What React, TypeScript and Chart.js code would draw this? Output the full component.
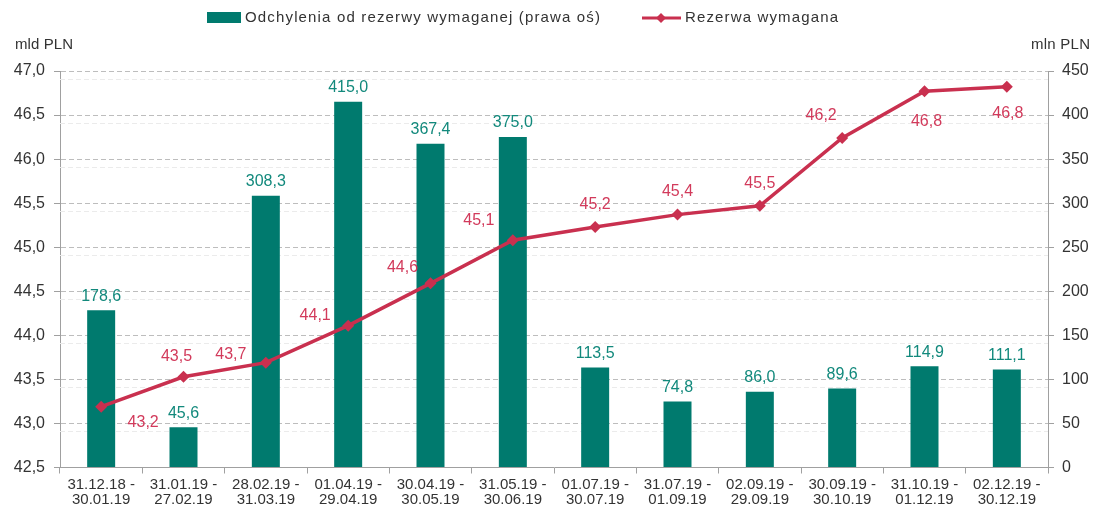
import React, { useEffect, useRef } from 'react';
import { Chart, registerables } from 'chart.js';

Chart.register(...registerables);

// ---------- data ----------
const categories: string[][] = [
  ['31.12.18 -', '30.01.19'],
  ['31.01.19 -', '27.02.19'],
  ['28.02.19 -', '31.03.19'],
  ['01.04.19 -', '29.04.19'],
  ['30.04.19 -', '30.05.19'],
  ['31.05.19 -', '30.06.19'],
  ['01.07.19 -', '30.07.19'],
  ['31.07.19 -', '01.09.19'],
  ['02.09.19 -', '29.09.19'],
  ['30.09.19 -', '30.10.19'],
  ['31.10.19 -', '01.12.19'],
  ['02.12.19 -', '30.12.19'],
];
const deviations: number[] = [178.6, 45.6, 308.3, 415.0, 367.4, 375.0, 113.5, 74.8, 86.0, 89.6, 114.9, 111.1];
const requiredReserve: number[] = [43.19, 43.53, 43.69, 44.11, 44.59, 45.08, 45.23, 45.37, 45.47, 46.24, 46.77, 46.82];
const barSeriesName = 'Odchylenia od rezerwy wymaganej (prawa oś)';
const lineSeriesName = 'Rezerwa wymagana';
const leftAxisTitle = 'mld PLN';
const rightAxisTitle = 'mln PLN';
const leftRange = { min: 42.5, max: 47.0, step: 0.5 };
const rightRange = { min: 0, max: 450, step: 50 };

// ---------- style ----------
const BAR_COLOR = '#007A6E';
const BAR_LABEL_COLOR = '#12897C';
const LINE_COLOR = '#C9304F';
const LINE_LABEL_COLOR = '#D23A5B';
const TEXT_COLOR = '#333333';
const GRID_COLOR = '#BDBDBD';
const AXIS_COLOR = '#A0A0A0';
const FONT = '"Liberation Sans", Arial, sans-serif';
// label offsets (px) relative to line points
const lineLabelOffsets: [number, number][] = [
  [42, 16], [-7, -20], [-35, -8], [-33, -10], [-28, -16], [-34, -20],
  [0, -22], [0, -23], [0, -22], [-21, -22], [2, 30], [1, 27],
];

const fmt1 = (v: number) => v.toFixed(1).replace('.', ',');

function fillSpaced(ctx: CanvasRenderingContext2D, text: string, x: number, y: number, target: number) {
  (ctx as any).letterSpacing = '0px';
  const w = ctx.measureText(text).width;
  const sp = text.length > 1 ? (target - w) / (text.length - 1) : 0;
  (ctx as any).letterSpacing = sp + 'px';
  ctx.fillText(text, x, y);
  (ctx as any).letterSpacing = '0px';
}

const decorPlugin = {
  id: 'decor',
  beforeDatasetsDraw(chart: any) {
    const { ctx, chartArea } = chart;
    const y = chart.scales.y;
    ctx.save();
    ctx.strokeStyle = '#EBEBEB';
    ctx.lineWidth = 1;
    ctx.setLineDash([5, 3]);
    y.ticks.forEach((t: any) => {
      const py = Math.round(y.getPixelForValue(t.value)) + 8.5;
      if (py < chartArea.bottom) {
        ctx.beginPath();
        ctx.moveTo(chartArea.left, py);
        ctx.lineTo(chartArea.right, py);
        ctx.stroke();
      }
    });
    ctx.restore();
  },
  afterDraw(chart: any) {
    const { ctx } = chart;
    ctx.save();
    // legend
    ctx.fillStyle = BAR_COLOR;
    ctx.fillRect(207, 12, 34, 11);
    ctx.font = `15px ${FONT}`;
    ctx.fillStyle = TEXT_COLOR;
    ctx.textBaseline = 'middle';
    ctx.textAlign = 'left';
    fillSpaced(ctx, barSeriesName, 245, 18, 355);
    ctx.strokeStyle = LINE_COLOR;
    ctx.lineWidth = 3;
    ctx.beginPath();
    ctx.moveTo(642, 18);
    ctx.lineTo(681, 18);
    ctx.stroke();
    ctx.fillStyle = LINE_COLOR;
    ctx.beginPath();
    ctx.moveTo(661, 13);
    ctx.lineTo(666, 18);
    ctx.lineTo(661, 23);
    ctx.lineTo(656, 18);
    ctx.closePath();
    ctx.fill();
    ctx.fillStyle = TEXT_COLOR;
    fillSpaced(ctx, lineSeriesName, 685, 18, 153);
    // axis titles
    ctx.font = `15px ${FONT}`;
    fillSpaced(ctx, leftAxisTitle, 15, 45, 58);
    fillSpaced(ctx, rightAxisTitle, 1031, 45, 59);

    // bar labels
    ctx.font = `16px ${FONT}`;
    ctx.textAlign = 'center';
    ctx.textBaseline = 'bottom';
    ctx.fillStyle = BAR_LABEL_COLOR;
    const barMeta = chart.getDatasetMeta(0);
    barMeta.data.forEach((el: any, i: number) => {
      ctx.fillText(fmt1(deviations[i]), el.x, el.y - 6);
    });
    // line labels
    ctx.textBaseline = 'middle';
    ctx.fillStyle = LINE_LABEL_COLOR;
    const lineMeta = chart.getDatasetMeta(1);
    lineMeta.data.forEach((el: any, i: number) => {
      const [dx, dy] = lineLabelOffsets[i];
      ctx.fillText(fmt1(requiredReserve[i]), el.x + dx, el.y + dy);
    });
    ctx.restore();
  },
};

export default function App() {
  const ref = useRef<HTMLCanvasElement | null>(null);
  useEffect(() => {
    document.body.style.margin = '0';
    if (!ref.current) return;
    const chart = new Chart(ref.current, {
      type: 'bar',
      data: {
        labels: categories,
        datasets: [
          {
            type: 'bar',
            label: barSeriesName,
            data: deviations,
            backgroundColor: BAR_COLOR,
            yAxisID: 'y1',
            categoryPercentage: 1,
            barPercentage: 0.34,
            order: 2,
          },
          {
            type: 'line',
            label: lineSeriesName,
            data: requiredReserve,
            borderColor: LINE_COLOR,
            backgroundColor: LINE_COLOR,
            borderWidth: 3.5,
            pointStyle: 'rectRot',
            pointRadius: 6,
            pointBackgroundColor: LINE_COLOR,
            pointBorderWidth: 0,
            tension: 0,
            yAxisID: 'y',
            order: 1,
          } as any,
        ],
      },
      options: {
        animation: false,
        responsive: true,
        maintainAspectRatio: false,
        layout: { padding: { top: 71, left: 0, right: 0, bottom: 0 } },
        plugins: { legend: { display: false }, tooltip: { enabled: false } },
        font: { family: FONT },
        scales: {
          x: {
            offset: true,
            grid: { offset: true, drawOnChartArea: false, tickLength: 6, color: AXIS_COLOR, lineWidth: 1 },
            border: { color: AXIS_COLOR },
            ticks: {
              autoSkip: false,
              maxRotation: 0,
              padding: 3,
              color: TEXT_COLOR,
              font: { family: FONT, size: 15, lineHeight: 1.05 },
            },
            afterFit: (s: any) => { s.height = 40.5; },
          },
          y: {
            position: 'left',
            min: leftRange.min,
            max: leftRange.max,
            ticks: {
              stepSize: leftRange.step,
              padding: 9,
              color: TEXT_COLOR,
              font: { family: FONT, size: 16 },
              callback: (v: any) => fmt1(Number(v)),
            },
            grid: { color: GRID_COLOR, tickLength: 6, tickColor: AXIS_COLOR, tickBorderDash: [] as any },
            border: { color: AXIS_COLOR, dash: [5, 3] },
            afterFit: (s: any) => { s.width = 60; },
          },
          y1: {
            position: 'right',
            min: rightRange.min,
            max: rightRange.max,
            ticks: {
              stepSize: rightRange.step,
              padding: 8,
              color: TEXT_COLOR,
              font: { family: FONT, size: 16 },
            },
            grid: { drawOnChartArea: false, tickLength: 6, color: AXIS_COLOR },
            border: { color: AXIS_COLOR },
            afterFit: (s: any) => { s.width = 46; },
          },
        },
      } as any,
      plugins: [decorPlugin],
    });
    return () => chart.destroy();
  }, []);
  return (
    <div style={{ width: 1094, height: 508, position: 'relative' }}>
      <canvas ref={ref} />
    </div>
  );
}
